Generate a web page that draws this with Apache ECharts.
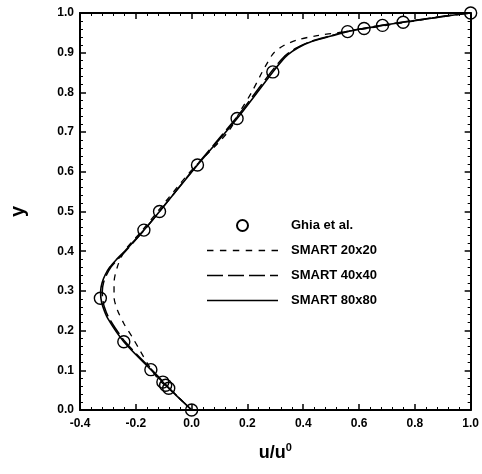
<!DOCTYPE html>
<html>
<head>
<meta charset="utf-8">
<script src="https://cdn.jsdelivr.net/npm/echarts@6/dist/echarts.min.js"></script>
<style>
  html, body { margin: 0; padding: 0; background: #fff; }
  #chart { width: 482px; height: 474px; }
</style>
</head>
<body>
<div id="chart"></div>
<script>
// Ghia et al. reference points
const ghiaY = [0, 0.0547, 0.0625, 0.0703, 0.1016, 0.1719, 0.2813, 0.4531, 0.5, 0.6172, 0.7344, 0.8516, 0.9531, 0.9609, 0.9688, 0.9766, 1.0];
const ghiaU = [0, -0.082, -0.093, -0.103, -0.146, -0.243, -0.327, -0.171, -0.115, 0.021, 0.163, 0.291, 0.559, 0.618, 0.684, 0.758, 1.0];

// SMART 20x20
const s20Y = [0, 0.05, 0.076, 0.109, 0.151, 0.185, 0.218, 0.252, 0.285, 0.319, 0.361, 0.403, 0.45, 0.5, 0.6, 0.7, 0.756, 0.8, 0.85, 0.875, 0.9, 0.918, 0.932, 0.943, 0.951, 0.96, 0.97, 0.98, 0.988, 1.0];
const s20U = [0, -0.075, -0.117, -0.151, -0.186, -0.214, -0.243, -0.266, -0.278, -0.278, -0.266, -0.238, -0.18, -0.122, -0.005, 0.13, 0.177, 0.215, 0.252, 0.272, 0.295, 0.33, 0.378, 0.45, 0.53, 0.62, 0.71, 0.8, 0.87, 1.0];

// SMART 40x40
const s40Y = [0, 0.03, 0.0547, 0.0703, 0.1016, 0.1719, 0.23, 0.26, 0.2813, 0.30, 0.32, 0.34, 0.36, 0.38, 0.40, 0.4531, 0.5, 0.6172, 0.7344, 0.8516, 0.875, 0.895, 0.912, 0.928, 0.942, 0.9531, 0.9609, 0.9688, 0.9766, 0.985, 0.993, 1.0];
const s40U = [0, -0.044, -0.08, -0.101, -0.143, -0.238, -0.295, -0.313, -0.319, -0.32, -0.316, -0.305, -0.289, -0.264, -0.237, -0.17, -0.115, 0.019, 0.158, 0.285, 0.312, 0.34, 0.376, 0.426, 0.495, 0.552, 0.612, 0.678, 0.752, 0.835, 0.915, 1.0];

// SMART 80x80
const s80Y = [0, 0.03, 0.0547, 0.0703, 0.1016, 0.1719, 0.23, 0.26, 0.2813, 0.30, 0.32, 0.34, 0.36, 0.38, 0.40, 0.4531, 0.5, 0.6172, 0.7344, 0.8516, 0.875, 0.895, 0.912, 0.928, 0.942, 0.9531, 0.9609, 0.9688, 0.9766, 0.985, 0.993, 1.0];
const s80U = [0, -0.045, -0.082, -0.103, -0.146, -0.243, -0.3, -0.318, -0.325, -0.326, -0.321, -0.31, -0.293, -0.268, -0.24, -0.171, -0.115, 0.021, 0.163, 0.291, 0.318, 0.345, 0.38, 0.43, 0.5, 0.559, 0.618, 0.684, 0.758, 0.84, 0.92, 1.0];

const seriesNames = ['Ghia et al.', 'SMART 20x20', 'SMART 40x40', 'SMART 80x80'];

const pairs = (us, ys) => us.map((u, i) => [u, ys[i]]);

// legend sample: row of dash rectangles, 71 wide
function dashIcon(dash, gap) {
  let d = '';
  for (let x = 0; x < 71; x += dash + gap) {
    const w = Math.min(dash, 71 - x);
    d += 'M' + x + ',0h' + w + 'v1.5h-' + w + 'z';
  }
  return 'path://' + d;
}

const FONT = '"Liberation Sans", Arial, sans-serif';
const fmt = v => v.toFixed(1);

function axisBase(extra) {
  return Object.assign({
    type: 'value',
    axisLine: { show: true, onZero: false, lineStyle: { color: '#000', width: 2 } },
    axisTick: { show: true, inside: true, length: 6, lineStyle: { color: '#000', width: 1.5 } },
    minorTick: { show: true, splitNumber: 5, length: 3, lineStyle: { color: '#000', width: 1 } },
    splitLine: { show: false },
    minorSplitLine: { show: false }
  }, extra);
}

function curve(name, us, ys, width, dash) {
  return {
    name, type: 'line', data: pairs(us, ys),
    smooth: 0.3,
    symbol: 'none', color: '#000',
    lineStyle: { color: '#000', width, type: dash }
  };
}

const chart = echarts.init(document.getElementById('chart'));
chart.setOption({
  backgroundColor: '#fff',
  animation: false,
  grid: { left: 68, right: 9, top: 13, bottom: 64 },
  xAxis: [
    axisBase({
      min: -0.4, max: 1.0, interval: 0.2, position: 'bottom',
      name: '{b|u/u}{s|0}', nameLocation: 'middle', nameGap: 32,
      nameTextStyle: {
        rich: {
          b: { fontFamily: FONT, fontWeight: 'bold', fontSize: 18, color: '#000' },
          s: { fontFamily: FONT, fontWeight: 'bold', fontSize: 11, color: '#000', verticalAlign: 'top', padding: [0, 0, 12, 0] }
        }
      },
      axisLabel: { formatter: fmt, margin: 8, fontFamily: FONT, fontWeight: 'bold', fontSize: 12, color: '#000' }
    }),
    axisBase({
      min: -0.4, max: 1.0, interval: 0.2, position: 'top',
      axisLabel: { show: false }
    })
  ],
  yAxis: [
    axisBase({
      min: 0, max: 1.0, interval: 0.1, position: 'left',
      name: 'y', nameLocation: 'middle', nameGap: 52, nameRotate: 90,
      nameTextStyle: { fontFamily: FONT, fontWeight: 'bold', fontSize: 20, color: '#000' },
      axisLabel: { formatter: fmt, margin: 6, fontFamily: FONT, fontWeight: 'bold', fontSize: 12, color: '#000' }
    }),
    axisBase({
      min: 0, max: 1.0, interval: 0.1, position: 'right',
      axisLabel: { show: false }
    })
  ],
  legend: {
    orient: 'vertical',
    left: 202, top: 214,
    itemWidth: 71, itemHeight: 11, itemGap: 12,
    data: [
      { name: seriesNames[0] },
      { name: seriesNames[1], icon: dashIcon(6, 6) },
      { name: seriesNames[2], icon: dashIcon(16, 5) },
      { name: seriesNames[3], icon: dashIcon(71, 0) }
    ],
    textStyle: { fontFamily: FONT, fontWeight: 'bold', fontSize: 13, color: '#000', padding: [0, 0, 0, 8] }
  },
  series: [
    {
      name: seriesNames[0], type: 'scatter', data: pairs(ghiaU, ghiaY),
      symbol: 'circle', symbolSize: 12, clip: false, z: 5,
      itemStyle: { color: 'rgba(0,0,0,0)', borderColor: '#000', borderWidth: 1.4, opacity: 1 }
    },
    curve(seriesNames[1], s20U, s20Y, 1.3, [6, 6]),
    curve(seriesNames[2], s40U, s40Y, 1.5, [16, 5]),
    curve(seriesNames[3], s80U, s80Y, 1.6, 'solid')
  ]
});
</script>
</body>
</html>
